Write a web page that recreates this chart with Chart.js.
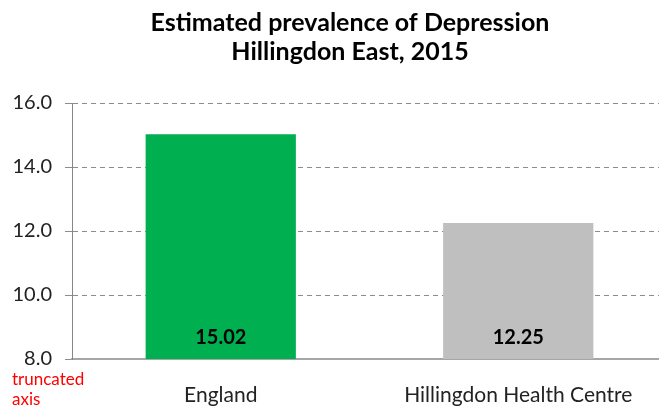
<!DOCTYPE html>
<html>
<head>
<meta charset="utf-8">
<script src="https://cdn.jsdelivr.net/npm/chart.js@4"></script>
<style>
  html, body { margin: 0; padding: 0; background: #fff; overflow: hidden; }
  #wrap { width: 700px; height: 407px; position: relative; }
</style>
</head>
<body>
<div id="wrap"><canvas id="chart"></canvas></div>
<script>
// chart data
const categories = ['England', 'Hillingdon Health Centre'];
const prevalence = [15.02, 12.25];
const barColors = ['#00B050', '#BFBFBF'];
const titleLines = ['Estimated prevalence of Depression', 'Hillingdon East, 2015'];
const yMin = 8, yMax = 16, yStep = 2;

// value labels near the base of each bar + the red "truncated axis" note
const extras = {
    id: 'extras',
    afterDatasetsDraw(chart) {
        const ctx = chart.ctx;
        const y = chart.scales.y;
        const meta = chart.getDatasetMeta(0);
        ctx.save();
        ctx.font = 'bold 20px Lato';
        ctx.fillStyle = '#000';
        ctx.textAlign = 'center';
        ctx.textBaseline = 'middle';
        meta.data.forEach((bar, i) => {
            ctx.fillText(prevalence[i].toFixed(2), bar.x, y.getPixelForValue(yMin) - 21);
        });
        ctx.fillStyle = '#FF0000';
        ctx.font = '17px Lato';
        ctx.textAlign = 'left';
        ctx.fillText('truncated', 12, 380);
        ctx.fillText('axis', 12, 400);
        ctx.restore();
    }
};

new Chart(document.getElementById('chart'), {
    type: 'bar',
    data: {
        labels: categories,
        datasets: [{
            data: prevalence,
            backgroundColor: barColors,
            borderWidth: 0,
            barPercentage: 0.505,
            categoryPercentage: 1.0
        }]
    },
    options: {
        responsive: true,
        maintainAspectRatio: false,
        animation: false,
        layout: { padding: 0 },
        plugins: {
            legend: { display: false },
            tooltip: { enabled: false },
            title: {
                display: true,
                text: titleLines,
                color: '#000',
                font: { family: 'Lato', size: 25, weight: 'bold', lineHeight: 1.18 },
                padding: { top: 8, bottom: 36 }
            }
        },
        scales: {
            x: {
                grid: { display: false },
                border: { display: true, color: '#A6A6A6', width: 2 },
                ticks: { color: '#222', font: { family: 'Lato', size: 21 }, padding: 16 },
                afterFit(scale) { scale.height = 48; }
            },
            y: {
                min: yMin,
                max: yMax,
                ticks: {
                    stepSize: yStep,
                    color: '#222',
                    font: { family: 'Lato', size: 20 },
                    padding: 13,
                    callback: v => v.toFixed(1)
                },
                grid: {
                    color: '#8C8C8C',
                    tickLength: 7,
                    tickColor: '#8C8C8C',
                    tickBorderDash: [],
                    drawTicks: true
                },
                border: { display: true, color: '#868686', width: 1, dash: [5, 4] },
                afterFit(scale) { scale.width = 72; }
            },
            // empty right margin so the title centres over the whole chart
            yRight: {
                position: 'right',
                min: yMin,
                max: yMax,
                grid: { display: false },
                ticks: { display: false },
                border: { display: false },
                afterFit(scale) { scale.width = 33; }
            }
        }
    },
    plugins: [extras]
});
</script>
</body>
</html>
